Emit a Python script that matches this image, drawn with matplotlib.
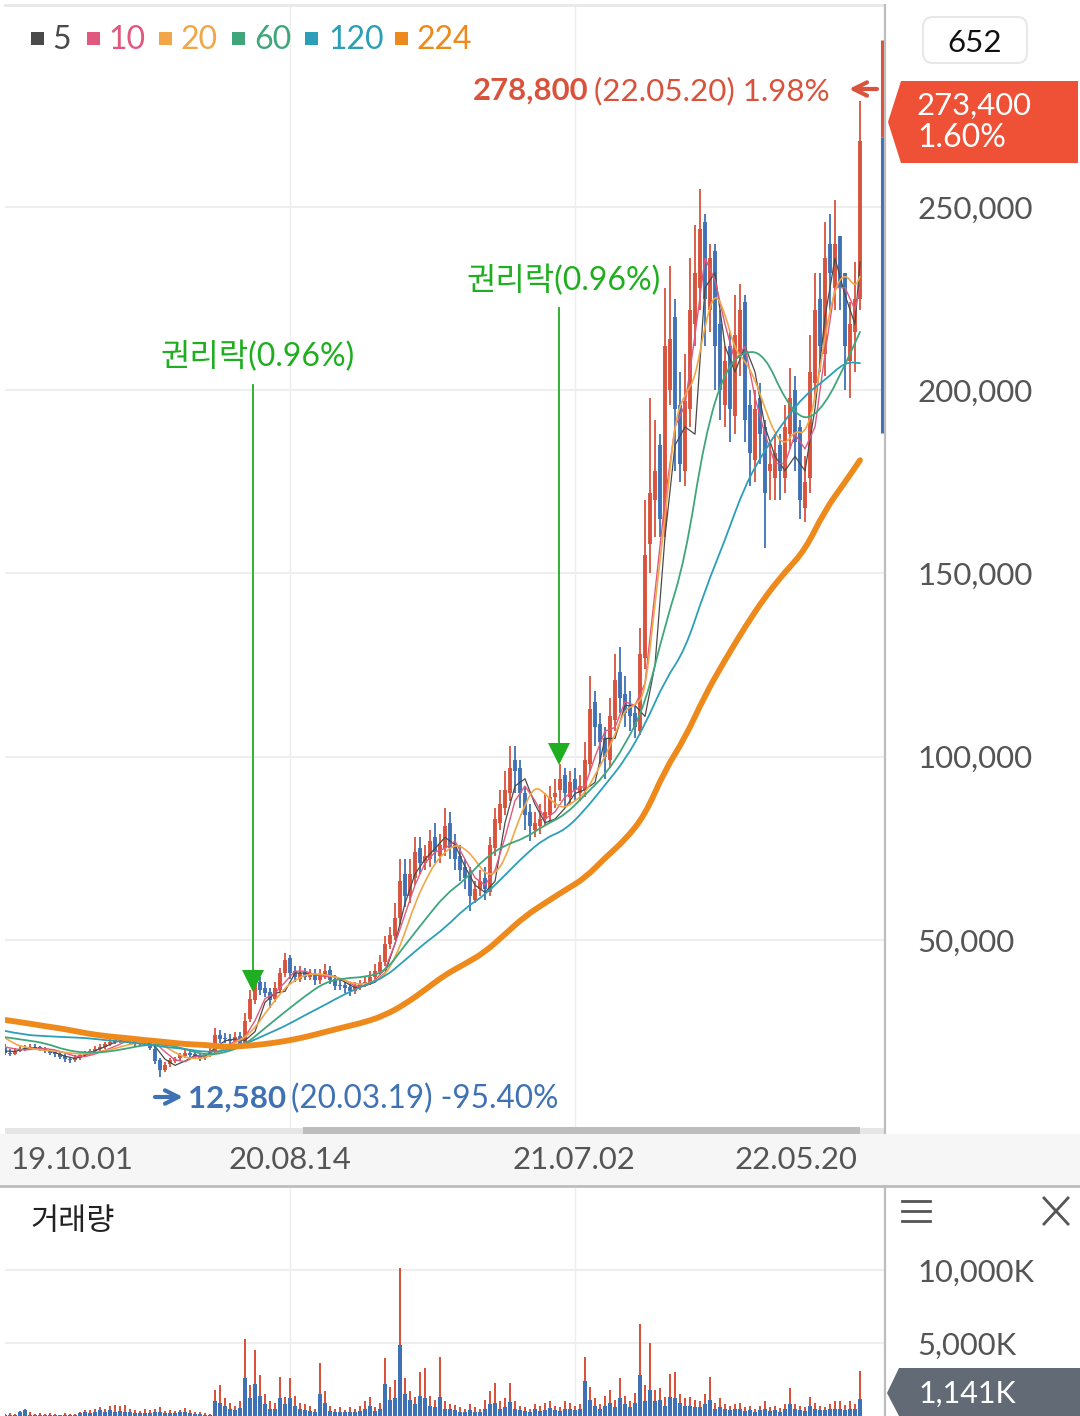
#!/usr/bin/env python3
# Daily stock chart with moving averages and a volume panel

import matplotlib
matplotlib.use('Agg')
import matplotlib.pyplot as plt
from matplotlib.patches import FancyBboxPatch, PathPatch, Polygon, Rectangle
from matplotlib.path import Path

plt.rcParams['font.family'] = ['Lato', 'Noto Sans CJK KR', 'DejaVu Sans']

# Prices in thousands, one candle per 5 pixels of the original
OPEN = [20.5, 19.3, 19.0, 19.8, 20.2, 20.4, 20.9, 20.7, 20.4, 19.9,
        19.4, 18.9, 18.4, 17.6, 17.2, 17.8, 18.6, 19.1, 19.7, 20.3,
        20.9, 21.6, 22.2, 22.7, 23.0, 23.3, 22.8, 21.7, 22.5, 22.1,
        20.4, 17.2, 14.6, 16.1, 17.1, 17.7, 18.4, 19.3, 18.8, 18.3,
        17.8, 18.7, 19.8, 24.2, 23.2, 23.1, 22.4, 23.8, 21.5, 28.5,
        33.5, 38.5, 37, 35.8, 33.8, 36.5, 41, 45, 41.5, 39.5,
        41.2, 40, 40.8, 39, 40.2, 41.8, 39.3, 37.8, 37.6, 37.3,
        36, 37.2, 38.1, 38.4, 39.8, 41.2, 44, 49, 51, 56,
        68, 62, 67, 75, 71, 72, 78, 73, 75, 82,
        76, 73, 70, 68, 61, 64, 67, 63, 75, 82,
        86, 90, 99, 97, 90, 85, 80, 81, 83, 84,
        89, 91, 95, 89, 94, 90, 91, 98, 115, 109,
        105, 99, 110, 123, 117, 114, 112, 107, 127, 158,
        170, 185, 163, 200, 220, 196, 178, 195, 218, 228,
        246, 222, 238, 218, 196, 212, 193, 210, 224, 196,
        181, 198, 190, 178, 176, 185, 176, 188, 200, 190,
        168, 176, 202, 225, 210, 240, 228, 242, 232, 208,
        216, 225]
CLOSE = [19.2, 19.0, 19.8, 20.3, 20.5, 20.8, 20.6, 20.3, 19.8, 19.3,
         18.8, 18.2, 17.5, 17.2, 17.8, 18.5, 19.0, 19.8, 20.4, 20.8,
         21.5, 22.2, 22.8, 23.0, 23.2, 22.6, 21.6, 22.4, 22.0, 20.6,
         17.0, 14.5, 16.0, 17.2, 17.6, 18.5, 19.2, 18.6, 18.2, 17.8,
         18.6, 19.5, 24.0, 23.0, 23.0, 22.5, 23.5, 21.0, 28.0, 34.0,
         38.0, 36.5, 35.5, 33.5, 37.0, 41.0, 44.5, 41.0, 40.0, 41.0,
         40.0, 40.5, 39.0, 40.5, 41.5, 39.0, 37.5, 37.5, 37.0, 36.0,
         37.5, 38.0, 38.5, 40.0, 41.5, 44.0, 49.0, 51.5, 56, 66,
         62, 68, 74, 71, 73, 77, 74, 76, 81, 75,
         72, 69, 67, 62, 64, 66, 64, 76, 83, 87,
         91, 97, 96, 90, 84, 81, 82, 83, 85, 89,
         90, 94, 90, 93, 91, 92, 99, 113, 108, 104,
         100, 111, 121, 116, 112, 111, 108, 128, 155, 172,
         178, 165, 212, 214, 195, 180, 197, 222, 232, 244,
         225, 236, 212, 200, 208, 195, 215, 222, 192, 183,
         195, 188, 172, 180, 183, 178, 190, 198, 186, 170,
         175, 205, 222, 212, 236, 232, 240, 228, 212, 218,
         225, 268]
HIGH = [21.5, 20.2, 20.6, 21.0, 21.3, 21.5, 21.6, 21.2, 20.8, 20.4,
        19.9, 19.5, 18.8, 18.2, 18.5, 19.2, 19.7, 20.4, 21.0, 21.5,
        22.2, 22.9, 23.5, 23.7, 24.0, 23.9, 23.2, 23.0, 23.1, 22.6,
        21.0, 17.8, 16.8, 17.8, 18.2, 19.2, 20.0, 19.9, 19.4, 18.8,
        19.2, 20.5, 26.0, 25.5, 24.5, 24.3, 24.8, 25.0, 30.0, 36.5,
        40.0, 40.0, 38.5, 37.0, 38.5, 42.5, 46.5, 46.0, 43.0, 43.0,
        42.5, 42.0, 42.2, 42.0, 43.5, 43.0, 40.5, 39.0, 38.5, 38.0,
        38.5, 39.0, 40.0, 41.5, 43.5, 46.0, 51.0, 53.5, 60, 72,
        72, 72, 78, 78, 76, 80, 82, 79, 86, 85,
        79, 76, 72, 70, 66, 69, 70, 78, 86, 91,
        96, 103, 103, 99, 92, 87, 85, 87, 90, 92,
        94, 98, 97, 96, 97, 95, 104, 122, 118, 112,
        108, 116, 128, 130, 122, 118, 114, 135, 170, 198,
        192, 188, 228, 234, 225, 205, 210, 236, 245, 255,
        248, 240, 240, 222, 212, 216, 226, 229, 226, 200,
        200, 202, 192, 186, 188, 188, 196, 206, 204, 192,
        182, 215, 232, 232, 246, 248, 252, 242, 232, 224,
        235, 278.8]
LOW = [18.6, 18.4, 18.7, 19.4, 19.7, 20.0, 19.9, 19.6, 19.1, 18.7,
       18.2, 17.5, 16.8, 16.4, 16.7, 17.3, 18.0, 18.6, 19.2, 19.8,
       20.4, 21.0, 21.6, 22.0, 22.2, 21.7, 20.8, 21.0, 21.2, 20.0,
       16.2, 12.58, 14.0, 15.4, 16.5, 17.0, 17.7, 17.9, 17.5, 17.0,
       17.2, 18.0, 19.2, 22.0, 21.8, 21.6, 21.8, 20.2, 21.0, 27.5,
       32.5, 35.0, 34.5, 31.5, 33.0, 35.5, 40.0, 39.5, 38.5, 38.5,
       39.0, 39.0, 37.8, 38.0, 39.5, 38.0, 36.5, 36.3, 35.5, 34.8,
       35.2, 36.5, 37.3, 37.8, 39.0, 40.5, 43.0, 47.5, 50, 54,
       59, 60, 65, 68, 69, 70, 71, 71, 73, 72,
       69, 66, 64, 58, 60, 62, 61, 62, 73, 80,
       84, 88, 90, 86, 80, 77, 78, 79, 81, 82,
       86, 88, 86, 87, 88, 88, 89, 96, 103, 98,
       94, 97, 107, 112, 108, 107, 105, 106, 124, 150,
       160, 160, 160, 196, 178, 175, 174, 190, 212, 222,
       212, 216, 200, 192, 190, 186, 188, 204, 186, 174,
       175, 180, 157, 170, 170, 170, 172, 184, 178, 165,
       164, 172, 198, 205, 204, 222, 222, 222, 200, 198,
       205, 222]

# Moving averages
MA5 = [19.7, 19.6, 20.4, 20.6, 20.1, 19.3, 18.3, 17.7, 18.5, 19.8,
       20.9, 22.1, 22.9, 22.4, 22.2, 21, 17.5, 15.8, 17, 18.5,
       18.3, 20.5, 22.5, 23, 22.6, 25, 33, 35.5, 36, 41,
       41, 40.5, 40.5, 40, 38.5, 37, 37.5, 38.5, 41, 49,
       60, 68, 72, 75, 78, 76, 70, 65, 63, 66,
       82, 92, 94, 87, 82, 83, 86, 90, 91, 93,
       105, 105, 114, 114, 111, 125, 160, 185, 190, 188,
       228, 232, 212, 205, 212, 205, 190, 182, 178, 182,
       178, 195, 220, 236, 226, 218, 235]
MA10 = [20.8, 20.3, 20, 20.3, 20.4, 20, 19.2, 18.3, 18.2, 18.9,
        19.9, 21, 22.2, 22.7, 22.6, 22, 19.5, 17.3, 16.8, 18.2,
        18.6, 19, 20.5, 22.5, 23.5, 28, 34, 35.5, 38.5, 41.5,
        41.5, 40.5, 40, 40, 39, 37.5, 37.5, 39, 42, 49,
        57, 65, 71, 74, 75, 77, 72, 67, 65, 69,
        78, 88, 92, 88, 83, 85, 89, 91, 92, 100,
        107, 108, 115, 114, 120, 145, 170, 190, 196, 215,
        236, 230, 218, 208, 212, 198, 188, 180, 180, 188,
        184, 190, 210, 228, 228, 222, 228]
MA20 = [23.3, 21.5, 20.8, 20.2, 19.9, 19.7, 19.3, 19.0, 18.9, 19.2,
        19.8, 20.4, 21.2, 21.8, 22.2, 22.4, 21.0, 19.3, 18.0, 17.6,
        17.9, 19.0, 20.5, 22.0, 23.5, 26, 30, 33.5, 37, 39,
        40.5, 40.8, 40.5, 40, 39, 38, 38, 38.8, 40.5, 45,
        52, 60, 66, 71, 74, 76, 75, 72, 68, 68,
        72, 80, 87, 92, 90, 87, 86, 88, 90, 95,
        100, 106, 113, 114, 117, 142, 165, 192, 199, 203,
        218, 227, 221, 211, 208, 203, 195, 188, 185, 189,
        188, 197, 215, 228, 232, 228, 231]
MA60 = [23.5, 22.7, 21.9, 20.0, 19.2, 19.4, 20.3, 21.4, 21.6, 20.3, 18.6,
        19.2, 21.4, 26, 30.4, 34.7, 38.5, 39.6, 39.9, 41.3, 48.6, 55.5,
        62.3, 66.4, 72.4, 75.9, 77.8, 81.4, 84.1, 89.6, 95, 103.2, 114.1,
        135.9, 153.7, 187.8, 205.5, 211, 209.6, 197.3, 191.3, 196, 206.9, 215.9]
MA120 = [25.2, 24.1, 23.8, 23.5, 23.3, 22.7, 22.2, 21.6, 20.8, 20.3, 19.4,
         19.7, 21.6, 24.1, 26.5, 29.5, 32.3, 35.3, 37.7, 39.9, 44.5, 49.2,
         53.3, 58.7, 62.3, 67.7, 73.2, 77.8, 80, 85.5, 92.3, 99.1, 108.7,
         120.9, 129.1, 145.5, 159.1, 174.1, 183.7, 191.9, 198.7, 202.8, 207.7, 207.4]
MA224 = [28.2, 27.4, 26.5, 25.7, 24.6, 23.8, 23.3, 22.7, 22.2, 21.6, 21.4,
         20.8, 21.1, 21.6, 22.4, 23.5, 24.9, 26.3, 27.6, 29.5, 32.5, 36.4,
         40.5, 43.5, 46.7, 51.6, 56.5, 60.1, 63.6, 66.9, 72.4, 77.3, 84.1,
         96.4, 105.1, 116.8, 126.4, 135.4, 143.6, 150.4, 156.4, 167.3, 174.9, 180.9]

# Volume in K shares, up days drawn behind down days
VOLUME_RED = [150, 200, 120, 350, 500, 250, 150, 180, 120, 200,
              130, 90, 180, 160, 120, 300, 420, 380, 500, 620,
              480, 700, 750, 680, 720, 500, 400, 350, 450, 380,
              500, 620, 350, 400, 320, 430, 550, 400, 300, 250,
              200, 150, 1800, 2100, 1200, 900, 700, 1000, 5300, 2100,
              4500, 2800, 1500, 1000, 900, 2700, 1300, 2600, 1400, 900,
              800, 700, 500, 3600, 1700, 700, 500, 600, 400, 650,
              500, 700, 1000, 1300, 600, 900, 4000, 2000, 2500, 10150,
              2600, 1700, 1300, 3000, 3300, 1400, 1100, 4050, 1000, 800,
              750, 600, 500, 800, 650, 500, 1100, 1700, 2250, 1000,
              1200, 2250, 1000, 700, 600, 500, 800, 700, 900, 1000,
              700, 600, 1000, 900, 700, 800, 4050, 2000, 1200, 800,
              1400, 1800, 1100, 2600, 1400, 1000, 1600, 6300, 2100, 5000,
              1800, 1900, 1300, 2900, 3000, 1500, 1200, 1300, 1100, 1000,
              1500, 2700, 900, 1200, 800, 700, 800, 900, 600, 700,
              500, 700, 1000, 600, 700, 550, 800, 1900, 800, 700,
              600, 1300, 900, 700, 650, 800, 1000, 1000, 750, 1000,
              800, 3100]
VOLUME_BLUE = [100, 90, 80, 300, 380, 100, 80, 70, 90, 60,
               70, 50, 80, 60, 60, 180, 250, 200, 300, 380,
               250, 400, 300, 350, 300, 250, 180, 200, 230, 200,
               280, 300, 200, 220, 180, 250, 280, 220, 170, 130,
               100, 80, 1000, 900, 700, 500, 400, 550, 2600, 1200,
               2200, 1400, 800, 500, 450, 1200, 800, 1200, 700, 500,
               400, 350, 300, 1500, 900, 350, 300, 300, 250, 300,
               300, 350, 500, 700, 350, 450, 2200, 1100, 1200, 4850,
               1500, 1100, 800, 1400, 1200, 700, 600, 1300, 500, 500,
               400, 300, 300, 400, 300, 250, 500, 800, 900, 500,
               600, 950, 500, 400, 350, 300, 450, 350, 400, 550,
               400, 350, 500, 450, 400, 450, 2400, 1100, 700, 500,
               700, 900, 600, 1200, 800, 600, 900, 2800, 1000, 1800,
               1000, 1100, 700, 1300, 1200, 900, 700, 700, 600, 600,
               800, 1100, 500, 600, 450, 400, 450, 500, 350, 400,
               300, 400, 500, 350, 400, 300, 450, 800, 450, 400,
               350, 700, 500, 400, 380, 450, 500, 500, 400, 500,
               450, 1141]

PRICE_TICKS = [50, 100, 150, 200, 250]
PRICE_LABELS = ['50,000', '100,000', '150,000', '200,000', '250,000']
VOLUME_TICKS = [5000, 10000]
VOLUME_LABELS = ['5,000K', '10,000K']
DATE_LABELS = ['19.10.01', '20.08.14', '21.07.02', '22.05.20']
GRID_CANDLES = [57, 114]
RANGE_UP = [269, 295.5]
RANGE_DOWN = [188.3, 269]
LEGEND_LABELS = ['5', '10', '20', '60', '120', '224']

RED = '#d9533c'
BLUE = '#3f72b5'
GREEN = '#1fae1f'
GRID = '#eeeeee'
TEXT = '#555555'
MA_COLORS = ['#4a4a4a', '#e0587e', '#f2a648', '#3fa67c', '#2b9fb8', '#ee8a1c']

W, H = 1080, 1416
CANDLE_PX = 5
candles = list(range(len(CLOSE)))
fast_idx = list(range(0, len(CLOSE), 2)) + [len(CLOSE) - 1]
slow_idx = list(range(0, len(CLOSE), 4)) + [len(CLOSE) - 1]


def place(left, top, right, bottom):
    return [left / W, 1 - bottom / H, (right - left) / W, (bottom - top) / H]


def smooth_line(axes, xs, ys, color, lw, zorder):
    # rounds the corners: read values act as control points of a curve
    verts = [(xs[0], ys[0])]
    codes = [Path.MOVETO]
    for i in range(1, len(xs) - 1):
        verts += [(xs[i], ys[i]), ((xs[i] + xs[i + 1]) / 2, (ys[i] + ys[i + 1]) / 2)]
        codes += [Path.CURVE3, Path.CURVE3]
    verts.append((xs[-1], ys[-1]))
    codes.append(Path.LINETO)
    axes.add_patch(PathPatch(Path(verts, codes), fc='none', ec=color, lw=lw,
                             zorder=zorder, capstyle='round'))


fig = plt.figure(figsize=(W / 100, H / 100), dpi=100, facecolor='white')

# Price panel
ax = fig.add_axes(place(5, 5, 884, 1133))
ax.set_xlim(0, 879 / CANDLE_PX)
ax.set_ylim(-2.65, 305.1)
colors = [RED if c >= o else BLUE for o, c in zip(OPEN, CLOSE)]
ax.vlines(candles, LOW, HIGH, colors=colors, lw=1.3, zorder=3)
ax.vlines(candles, OPEN, CLOSE, colors=colors, lw=2.8, zorder=3)
ax.plot(fast_idx, MA5, color=MA_COLORS[0], lw=0.9, zorder=4)
ax.plot(fast_idx, MA10, color=MA_COLORS[1], lw=1.0, zorder=4)
smooth_line(ax, fast_idx, MA20, MA_COLORS[2], 1.2, 4)
smooth_line(ax, slow_idx, MA60, MA_COLORS[3], 1.3, 4)
smooth_line(ax, slow_idx, MA120, MA_COLORS[4], 1.3, 4)
smooth_line(ax, slow_idx, MA224, MA_COLORS[5], 4.2, 5)
ax.plot([175.3, 175.3], RANGE_UP, color=RED, lw=2.2, clip_on=False, zorder=6,
        solid_capstyle='butt')
ax.plot([175.3, 175.3], RANGE_DOWN, color=BLUE, lw=2.2, clip_on=False, zorder=6,
        solid_capstyle='butt')
ax.set_yticks(PRICE_TICKS)
ax.set_yticklabels(PRICE_LABELS, fontsize=22.5, color=TEXT, va='center_baseline')
ax.yaxis.tick_right()
ax.tick_params(axis='y', length=0, pad=24)
ax.set_xticks([])
ax.grid(True, axis='y', color=GRID, lw=1.5)
for c in GRID_CANDLES:
    ax.axvline(c, color=GRID, lw=1)
ax.set_axisbelow(True)
for side in ['left', 'bottom', 'right']:
    ax.spines[side].set_visible(False)
ax.spines['top'].set_color('#e8e8e8')
ax.spines['top'].set_linewidth(2)

# Volume panel
vol = fig.add_axes(place(5, 1188, 884, 1416))
vol.set_xlim(0, 879 / CANDLE_PX)
vol.set_ylim(0, 15620)
vol.bar(candles, VOLUME_RED, width=0.45, color=RED, zorder=3)
vol.bar(candles, VOLUME_BLUE, width=0.85, color=BLUE, zorder=4)
vol.set_yticks(VOLUME_TICKS)
vol.set_yticklabels(VOLUME_LABELS, fontsize=22.3, color=TEXT)
vol.yaxis.tick_right()
vol.tick_params(axis='y', length=0, pad=24)
vol.set_xticks([])
vol.grid(True, axis='y', color=GRID, lw=1.5)
for c in GRID_CANDLES:
    vol.axvline(c, color=GRID, lw=1)
vol.set_axisbelow(True)
for side in ['left', 'bottom', 'right', 'top']:
    vol.spines[side].set_visible(False)

# Everything else sits on a pixel overlay
ov = fig.add_axes([0, 0, 1, 1], zorder=10)
ov.patch.set_alpha(0)
ov.set_xlim(0, W)
ov.set_ylim(H, 0)
ov.axis('off')

ov.add_patch(Rectangle((0, 1134), W, 52, color='#f6f6f6', lw=0))
ov.plot([0, W], [1186, 1186], color='#bdbdbd', lw=2)
ov.plot([885, 885], [5, 1133], color='#bdbdbd', lw=1.6)
ov.plot([885, 885], [1186, 1416], color='#bdbdbd', lw=1.6)
ov.add_patch(Rectangle((5, 1128), 879, 6, color='#e6e6e6', lw=0))
ov.add_patch(Rectangle((303, 1127), 557, 7, color='#bdbdbd', lw=0))
for x, label in zip([72, 290, 574, 796], DATE_LABELS):
    ov.text(x, 1160, label, fontsize=22.4, color=TEXT, ha='center', va='center')

# Legend
legend_x = [31, 87, 159, 232, 305, 395]
text_x = [52, 108, 181, 254, 328, 417]
for i, label in enumerate(LEGEND_LABELS):
    ov.add_patch(Rectangle((legend_x[i], 32), 13, 13, color=MA_COLORS[i], lw=0))
    ov.text(text_x[i], 40, label, fontsize=23, color=MA_COLORS[i], va='center')

# Value box and price tags
ov.add_patch(FancyBboxPatch((929, 23), 92, 34, boxstyle='round,pad=6,rounding_size=10',
                            fc='white', ec='#e8e8e8', lw=1.5))
ov.text(975, 43, '652', fontsize=22.5, color='#111111', ha='center', va='center')
ov.add_patch(Polygon([(888, 122), (901, 81), (1078, 81), (1078, 163), (901, 163)],
                     color='#ee5135', lw=0))
ov.text(917, 106, '273,400', fontsize=22.3, color='white', va='center')
ov.text(917, 138, '1.60%', fontsize=23, color='white', va='center')
ov.add_patch(Polygon([(887, 1393), (899, 1368), (1080, 1368), (1080, 1416), (899, 1416)],
                     color='#626b75', lw=0))
ov.text(919, 1394, '1,141K', fontsize=22, color='white', va='center')

# High and low notes
ov.text(473, 91, '278,800', fontsize=22.4, fontweight='bold', color=RED, va='center')
ov.text(594, 91, '(22.05.20) 1.98%', fontsize=22.6, color=RED, va='center')
ov.annotate('', xy=(849, 89), xytext=(877, 89),
            arrowprops=dict(arrowstyle='->', color=RED, lw=3, mutation_scale=24,
                            shrinkA=0, shrinkB=0))
ov.annotate('', xy=(183, 1097), xytext=(155, 1097),
            arrowprops=dict(arrowstyle='->', color=BLUE, lw=3, mutation_scale=24,
                            shrinkA=0, shrinkB=0))
ov.text(188, 1099, '12,580', fontsize=22.5, fontweight='bold', color=BLUE, va='center')
ov.text(291, 1099, '(20.03.19) -95.40%', fontsize=22.7, color=BLUE, va='center')

# Rights-off markers
for x, top, tip, text_y in [(253, 385, 992, 356), (559, 308, 765, 280)]:
    ov.plot([x, x], [top, tip - 20], color=GREEN, lw=1.3)
    ov.add_patch(Polygon([(x - 11, tip - 22), (x + 11, tip - 22), (x, tip)], color=GREEN, lw=0))
    ov.text(x + 5, text_y, '권리락(0.96%)', fontsize=23, color=GREEN, ha='center', va='center')

# Volume panel header and icons
ov.text(30, 1221, '거래량', fontsize=22, color='#222222', va='center')
for y in [1201, 1211, 1221]:
    ov.plot([902, 930], [y, y], color='#555555', lw=2)
ov.plot([1044, 1068], [1198, 1224], color='#555555', lw=2)
ov.plot([1068, 1044], [1198, 1224], color='#555555', lw=2)

fig.savefig('out.png', dpi=100)
